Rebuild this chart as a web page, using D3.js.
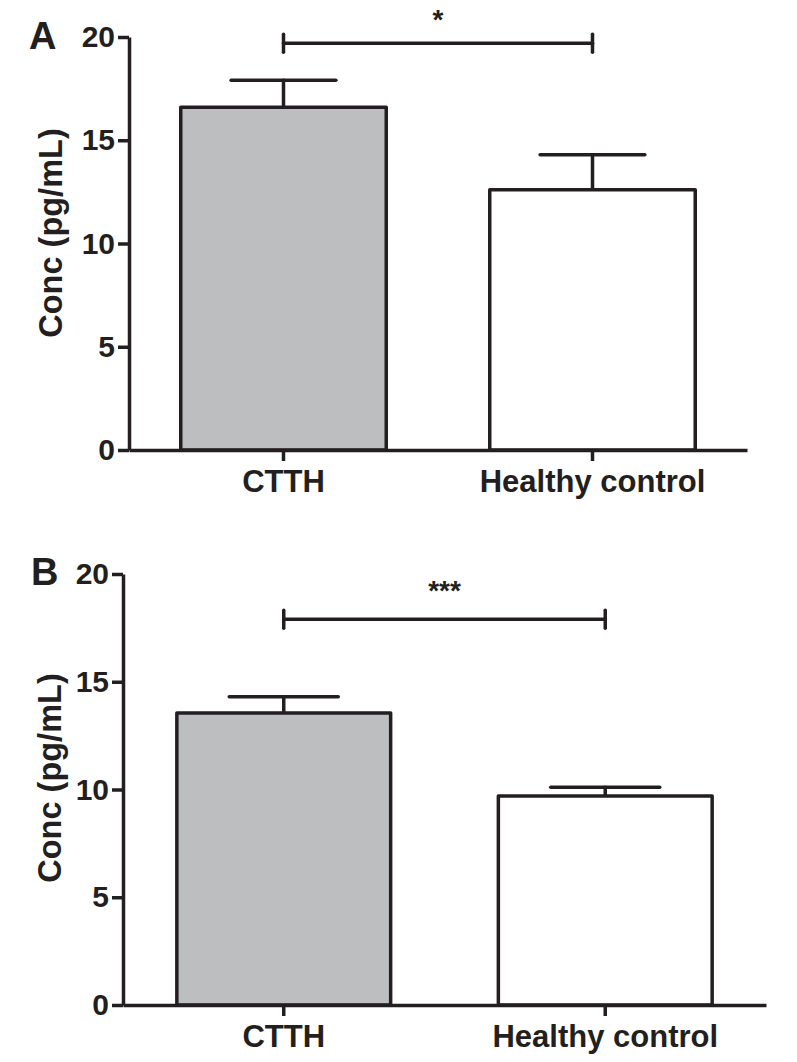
<!DOCTYPE html>
<html>
<head>
<meta charset="utf-8">
<script src="https://cdn.jsdelivr.net/npm/d3@7"></script>
<style>
  body { margin: 0; background: #fff; }
  svg text { font-family: "Liberation Sans", Arial, sans-serif; font-weight: bold; fill: #231f20; }
</style>
</head>
<body>
<div id="chart"></div>
<script>
// groups on the x axis, shared by both panels
var groups = ["CTTH", "Healthy control"];
var fills  = ["#bcbec0", "#ffffff"];
var yTicks = [0, 5, 10, 15, 20];

// Panel A: means and error (SEM)
var meansA = [16.6, 12.6];
var errA   = [1.3, 1.7];
// Panel B
var meansB = [13.55, 9.7];
var errB   = [0.75, 0.4];

// significance brackets
var sigA = { label: "*",   value: 19.7 };
var sigB = { label: "***", value: 17.9 };

var ink = "#231f20";

var svg = d3.select("#chart").append("svg")
    .attr("width", 797).attr("height", 1062);

/**
 *  draw one bar panel
 *  box = pixel frame of the plot area (left, right, top, bottom)
 */
function drawPanel(p) {
    var g = svg.append("g");

    var x = d3.scaleBand().domain(groups)
        .range([p.left, p.right])
        .paddingInner(0.335).paddingOuter(0.1675);
    var y = d3.scaleLinear().domain([0, 20]).range([p.bottom, p.top]);

    var rows = groups.map(function(k, i){
        return { key: k, mean: p.means[i], err: p.errs[i], fill: fills[i] };
    });

    // error bars (drawn first, bar outline covers the stem foot)
    var eb = g.append("g").selectAll("g").data(rows).enter().append("g")
        .attr("stroke", ink).attr("stroke-width", 3.5).attr("stroke-linecap", "round");
    eb.append("line")
        .attr("x1", function(d){ return x(d.key) + x.bandwidth()/2; })
        .attr("x2", function(d){ return x(d.key) + x.bandwidth()/2; })
        .attr("y1", function(d){ return y(d.mean); })
        .attr("y2", function(d){ return y(d.mean + d.err); });
    eb.append("line")
        .attr("x1", function(d){ return x(d.key) + x.bandwidth()*0.245; })
        .attr("x2", function(d){ return x(d.key) + x.bandwidth()*0.755; })
        .attr("y1", function(d){ return y(d.mean + d.err); })
        .attr("y2", function(d){ return y(d.mean + d.err); });

    // bars
    g.append("g").selectAll("rect").data(rows).enter().append("rect")
        .attr("x", function(d){ return x(d.key); })
        .attr("y", function(d){ return y(d.mean); })
        .attr("width", x.bandwidth())
        .attr("height", function(d){ return y(0) - y(d.mean); })
        .attr("fill", function(d){ return d.fill; })
        .attr("stroke", ink).attr("stroke-width", 3.5)
        .attr("stroke-linejoin", "round");

    // y axis
    var ya = g.append("g")
        .attr("transform", "translate(" + p.left + ",0)")
        .call(d3.axisLeft(y).tickValues(yTicks).tickSize(11).tickSizeOuter(0).tickPadding(3));
    ya.selectAll("text").attr("font-size", 30).attr("fill", ink);

    // x axis
    var xa = g.append("g")
        .attr("transform", "translate(0," + p.bottom + ")")
        .call(d3.axisBottom(x).tickSize(11).tickSizeOuter(0).tickPadding(9));
    xa.selectAll("text").attr("font-size", 31).attr("fill", ink);

    [ya, xa].forEach(function(a){
        a.attr("font-family", null);
        a.selectAll("path, line").attr("stroke", ink).attr("stroke-width", 3.5);
    });

    // significance bracket
    var c0 = x(groups[0]) + x.bandwidth()/2,
        c1 = x(groups[1]) + x.bandwidth()/2,
        sy = y(p.sig.value);
    var sg = g.append("g").attr("stroke", ink).attr("stroke-width", 3.5).attr("stroke-linecap", "round");
    sg.append("line").attr("x1", c0).attr("x2", c1).attr("y1", sy).attr("y2", sy);
    sg.append("line").attr("x1", c0).attr("x2", c0).attr("y1", sy - 9).attr("y2", sy + 9);
    sg.append("line").attr("x1", c1).attr("x2", c1).attr("y1", sy - 9).attr("y2", sy + 9);
    g.append("text")
        .attr("x", (c0 + c1)/2 + p.starDx).attr("y", sy - p.starGap)
        .attr("text-anchor", "middle").attr("font-size", 28)
        .text(p.sig.label);

    // y title
    g.append("text")
        .attr("transform", "translate(" + p.titleX + "," + p.titleY + ") rotate(-90)")
        .attr("text-anchor", "middle").attr("font-size", 32.5)
        .text("Conc (pg/mL)");

    // panel letter
    g.append("text")
        .attr("x", p.letterX).attr("y", p.letterY)
        .attr("font-size", 38)
        .text(p.letter);
}

drawPanel({ left: 129, right: 747, top: 37, bottom: 450,
            means: meansA, errs: errA, sig: sigA, starDx: 0, starGap: 14,
            titleX: 62, titleY: 233, letter: "A", letterX: 29, letterY: 49 });

drawPanel({ left: 123, right: 766, top: 574, bottom: 1005,
            means: meansB, errs: errB, sig: sigB, starDx: 0, starGap: 19,
            titleX: 61, titleY: 778, letter: "B", letterX: 31, letterY: 585 });
</script>
</body>
</html>
